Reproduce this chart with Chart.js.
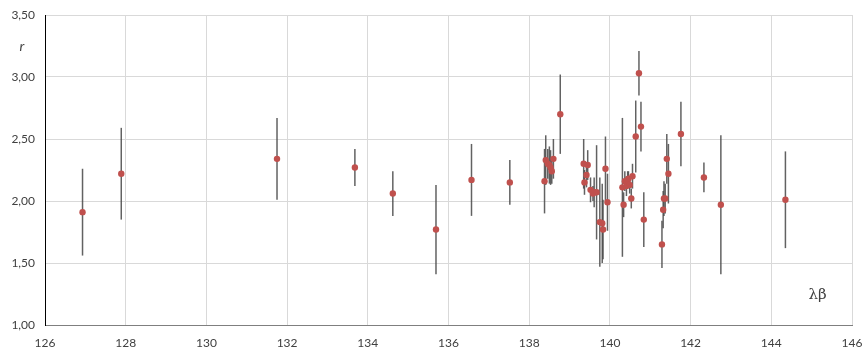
<!DOCTYPE html>
<html>
<head>
<meta charset="utf-8">
<script src="https://cdn.jsdelivr.net/npm/chart.js@4"></script>
<style>
  body { margin: 0; background: #fff; }
  canvas { display: block; }
</style>
</head>
<body>
<canvas id="chart" width="862" height="349"></canvas>
<script>
// x (λβ), r and half-width of the error bar
var xValues = [126.93, 127.89, 131.75, 133.68, 134.62, 135.69, 136.57, 137.52,
  138.38, 138.41, 138.46, 138.50, 138.53, 138.56, 138.60, 138.77,
  139.35, 139.37, 139.42, 139.45, 139.52, 139.58, 139.61, 139.67, 139.75, 139.81, 139.83, 139.89, 139.94,
  140.31, 140.34, 140.37, 140.41, 140.44, 140.46, 140.49, 140.53, 140.56, 140.64, 140.72, 140.77, 140.84,
  141.29, 141.32, 141.34, 141.37, 141.41, 141.45, 141.76, 142.33, 142.75, 144.35];
var rValues = [1.91, 2.22, 2.34, 2.27, 2.06, 1.77, 2.17, 2.15,
  2.16, 2.33, 2.30, 2.29, 2.27, 2.24, 2.34, 2.70,
  2.30, 2.15, 2.21, 2.29, 2.09, 2.06, 2.07, 2.07, 1.83, 1.82, 1.77, 2.26, 1.99,
  2.11, 1.97, 2.16, 2.12, 2.17, 2.18, 2.13, 2.02, 2.20, 2.52, 3.03, 2.60, 1.85,
  1.65, 1.93, 2.02, 2.02, 2.34, 2.22, 2.54, 2.19, 1.97, 2.01];
var rErrors = [0.35, 0.37, 0.33, 0.15, 0.18, 0.36, 0.29, 0.18,
  0.26, 0.20, 0.12, 0.15, 0.14, 0.10, 0.16, 0.32,
  0.20, 0.10, 0.10, 0.12, 0.10, 0.06, 0.12, 0.38, 0.36, 0.32, 0.24, 0.26, 0.23,
  0.56, 0.10, 0.08, 0.08, 0.07, 0.06, 0.07, 0.08, 0.10, 0.29, 0.18, 0.20, 0.22,
  0.19, 0.15, 0.14, 0.12, 0.20, 0.24, 0.26, 0.12, 0.56, 0.39];

var xTitle = 'λβ';
var yTitle = 'r';

var points = [];
for (var i = 0; i < xValues.length; i++) {
  points.push({ x: xValues[i], y: rValues[i] });
}

function comma(v) {
  return v.toFixed(2).replace('.', ',');
}

// vertical error bars, drawn under the markers
var errorBars = {
  id: 'errorBars',
  beforeDatasetsDraw: function(chart) {
    var ctx = chart.ctx;
    var xs = chart.scales.x, ys = chart.scales.y;
    ctx.save();
    ctx.strokeStyle = 'rgba(70,70,70,0.85)';
    ctx.lineWidth = 1.5;
    for (var i = 0; i < xValues.length; i++) {
      var px = xs.getPixelForValue(xValues[i]);
      ctx.beginPath();
      ctx.moveTo(px, ys.getPixelForValue(rValues[i] + rErrors[i]));
      ctx.lineTo(px, ys.getPixelForValue(rValues[i] - rErrors[i]));
      ctx.stroke();
    }
    ctx.restore();
  },
  afterDraw: function(chart) {
    var ctx = chart.ctx;
    var xs = chart.scales.x, ys = chart.scales.y;
    ctx.save();
    ctx.fillStyle = '#404040';
    ctx.textAlign = 'center';
    ctx.textBaseline = 'middle';
    ctx.font = 'italic 14px Lato';
    ctx.fillText(yTitle, 22, (ys.getPixelForValue(3.5) + ys.getPixelForValue(3.0)) / 2);
    ctx.font = '15px "DejaVu Serif"';
    ctx.fillText(xTitle, xs.getPixelForValue(145.15), ys.getPixelForValue(1.24));
    ctx.restore();
  }
};

new Chart(document.getElementById('chart'), {
  type: 'scatter',
  data: {
    datasets: [{
      data: points,
      backgroundColor: '#C0504D',
      borderColor: '#C0504D',
      pointRadius: 3.2,
      pointBorderWidth: 0
    }]
  },
  options: {
    responsive: false,
    animation: false,
    layout: { autoPadding: false, padding: { top: 15, right: 10, left: 0, bottom: 0 } },
    plugins: { legend: { display: false }, tooltip: { enabled: false } },
    scales: {
      x: {
        type: 'linear',
        min: 126, max: 146,
        afterFit: function(s) { s.height = 24; s.paddingLeft = 0; s.paddingRight = 0; },
        border: { color: '#7f7f7f', width: 1 },
        grid: { color: '#d9d9d9', drawTicks: false },
        ticks: { stepSize: 2, padding: 11, color: '#404040', font: { family: 'Lato', size: 12 } }
      },
      y: {
        min: 1, max: 3.5,
        afterFit: function(s) { s.width = 45; s.paddingTop = 0; s.paddingBottom = 0; },
        border: { color: '#000000', width: 1 },
        grid: { color: '#d9d9d9', drawTicks: false },
        ticks: { stepSize: 0.5, padding: 10, color: '#404040', font: { family: 'Lato', size: 12 },
          callback: function(v) { return comma(v); } }
      }
    }
  },
  plugins: [errorBars]
});
</script>
</body>
</html>
